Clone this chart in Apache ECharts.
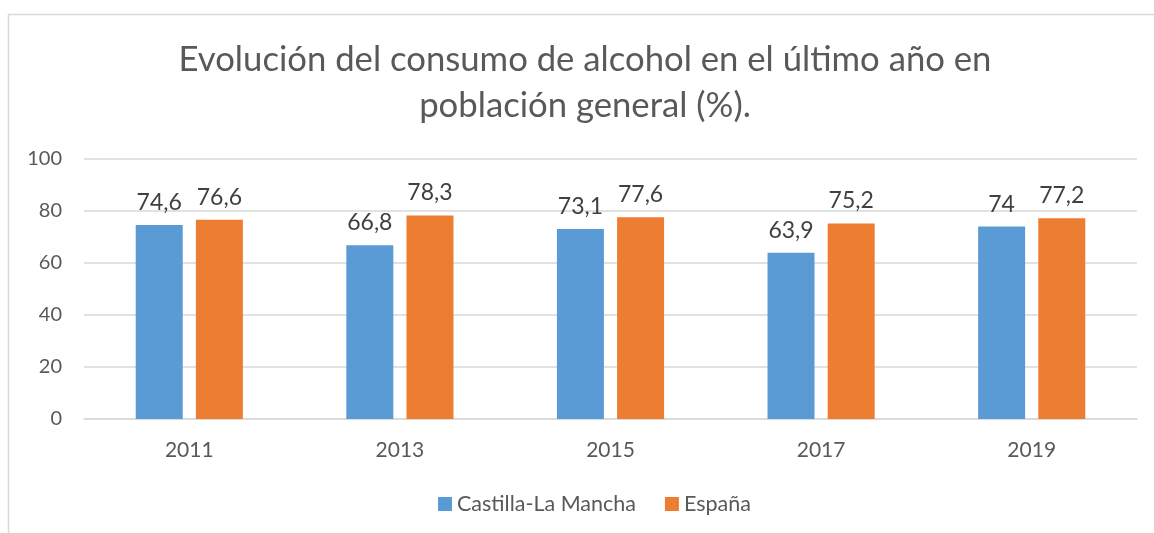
<!DOCTYPE html>
<html>
<head>
<meta charset="utf-8">
<script src="https://cdn.jsdelivr.net/npm/echarts@6/dist/echarts.min.js"></script>
<style>
  html, body { margin: 0; padding: 0; background: #fff; }
  #chart { width: 1154px; height: 533px; }
</style>
</head>
<body>
<div id="chart"></div>
<script>
var years = ['2011', '2013', '2015', '2017', '2019'];
var castilla = [74.6, 66.8, 73.1, 63.9, 74];
var espana = [76.6, 78.3, 77.6, 75.2, 77.2];
var yTicks = [0, 20, 40, 60, 80, 100];
var titleText = 'Evolución del consumo de alcohol en el último año en\npoblación general (%).';

var myChart = echarts.init(document.getElementById('chart'));
var font = 'Lato';

function fmt(p) {
  return String(p.value).replace('.', ',');
}

var option = {
  animation: false,
  backgroundColor: '#ffffff',
  color: ['#5B9BD5', '#ED7D31'],
  textStyle: { fontFamily: font },
  graphic: [
    {
      type: 'rect',
      shape: { x: 8.5, y: 14.5, width: 1200, height: 600 },
      style: { fill: 'none', stroke: '#d9d9d9', lineWidth: 1.5 },
      silent: true
    },
    {
      // chart title, centred on the (wider) Excel chart area
      type: 'text',
      x: 585,
      y: 37,
      silent: true,
      style: {
        text: titleText,
        fontFamily: font,
        fontSize: 34.7,
        fill: '#595959',
        lineHeight: 46,
        textAlign: 'center',
        textVerticalAlign: 'top'
      }
    }
  ],
  legend: {
    bottom: 13,
    left: 433,
    itemWidth: 14,
    itemHeight: 14,
    itemGap: 29,
    icon: 'rect',
    textStyle: { fontFamily: font, fontSize: 21.5, color: '#595959' },
    data: ['Castilla-La Mancha', 'España']
  },
  grid: {
    left: 84,
    right: 17,
    top: 159,
    bottom: 114,
    containLabel: false
  },
  xAxis: {
    type: 'category',
    data: years,
    axisTick: { show: false },
    axisLine: { lineStyle: { color: '#d9d9d9', width: 1.5 } },
    axisLabel: { fontFamily: font, fontSize: 21, color: '#595959', margin: 21 }
  },
  yAxis: {
    type: 'value',
    min: yTicks[0],
    max: yTicks[yTicks.length - 1],
    interval: 20,
    axisLine: { show: false },
    axisTick: { show: false },
    splitLine: { lineStyle: { color: '#d9d9d9', width: 1.5 } },
    axisLabel: { fontFamily: font, fontSize: 20, color: '#595959', margin: 22 }
  },
  series: [
    {
      name: 'Castilla-La Mancha',
      type: 'bar',
      data: castilla,
      barWidth: 47,
      barGap: '28%',
      label: {
        show: true,
        position: 'top',
        distance: 11,
        formatter: fmt,
        fontFamily: font,
        fontSize: 23,
        color: '#404040'
      }
    },
    {
      name: 'España',
      type: 'bar',
      data: espana,
      barWidth: 47,
      barGap: '28%',
      label: {
        show: true,
        position: 'top',
        distance: 11,
        formatter: fmt,
        fontFamily: font,
        fontSize: 23,
        color: '#404040'
      }
    }
  ]
};

option && myChart.setOption(option);
</script>
</body>
</html>
